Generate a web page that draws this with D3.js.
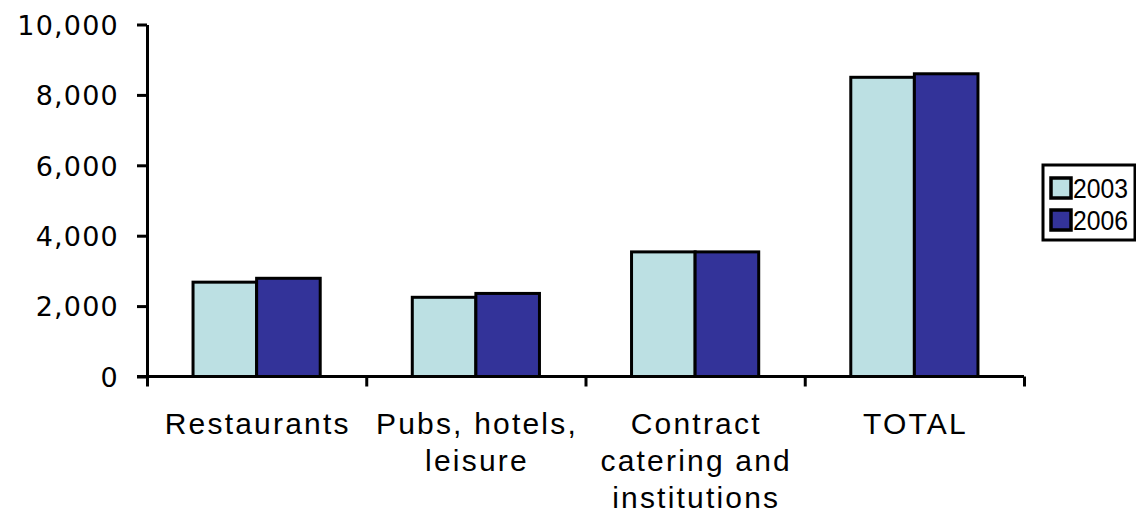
<!DOCTYPE html>
<html>
<head>
<meta charset="utf-8">
<script src="https://cdn.jsdelivr.net/npm/d3@7"></script>
<style>
  html, body { margin: 0; padding: 0; background: #fff; }
  svg { display: block; }
</style>
</head>
<body>
<svg id="chart" width="1136" height="515"></svg>
<script>
// Catering sector figures, two survey years
const categories = [
  ["Restaurants"],
  ["Pubs, hotels,", "leisure"],
  ["Contract", "catering and", "institutions"],
  ["TOTAL"]
];
const seriesNames = ["2003", "2006"];
const values2003 = [2680, 2250, 3540, 8500];
const values2006 = [2790, 2360, 3540, 8600];
const yTicks = [0, 2000, 4000, 6000, 8000, 10000];
const colors = ["#bce0e3", "#333399"];

const svg = d3.select("#chart");
const margin = { left: 147, top: 24.5, right: 1136 - 1024, bottom: 515 - 376.5 };
const W = 1136 - margin.left - margin.right;
const H = 515 - margin.top - margin.bottom;

const g = svg.append("g").attr("transform", `translate(${margin.left},${margin.top})`);

const x0 = d3.scaleBand().domain(d3.range(categories.length)).range([0, W]).padding(0);
const x1 = d3.scaleBand().domain(seriesNames).range([0, x0.bandwidth()]).paddingInner(0).paddingOuter(0.724);
const y = d3.scaleLinear().domain([0, 10000]).range([H, 0]);

const rows = categories.map((c, i) => ({ i, vals: [values2003[i], values2006[i]] }));

// bars
const grp = g.selectAll("g.cat").data(rows).join("g")
  .attr("class", "cat")
  .attr("transform", d => `translate(${x0(d.i)},0)`);
grp.selectAll("rect").data(d => d.vals.map((v, k) => ({ k, v }))).join("rect")
  .attr("x", d => x1(seriesNames[d.k]))
  .attr("width", x1.bandwidth())
  .attr("y", d => y(d.v))
  .attr("height", d => H - y(d.v))
  .attr("fill", d => colors[d.k])
  .attr("stroke", "#000")
  .attr("stroke-width", 3);

// y axis
const yAxis = g.append("g")
  .call(d3.axisLeft(y).tickValues(yTicks).tickFormat(d3.format(",")).tickSizeInner(10).tickSizeOuter(0).tickPadding(18));
yAxis.select(".domain").attr("stroke", "#000").attr("stroke-width", 3);
yAxis.selectAll(".tick line").attr("stroke", "#000").attr("stroke-width", 3);
yAxis.selectAll(".tick text")
  .attr("fill", "#000")
  .attr("dy", "0.36em")
  .style("font-family", "'DejaVu Sans', Verdana, sans-serif")
  .style("font-size", "27px")
  .style("letter-spacing", "1.2px");

// x axis: boundary ticks between categories
const xLin = d3.scaleLinear().domain([0, categories.length]).range([0, W]);
const xAxis = g.append("g").attr("transform", `translate(0,${H})`)
  .call(d3.axisBottom(xLin).tickValues(d3.range(categories.length + 1)).tickFormat("").tickSizeInner(10).tickSizeOuter(0));
xAxis.select(".domain").attr("stroke", "#000").attr("stroke-width", 3)
  .attr("d", `M-10,0H${W}`);
xAxis.selectAll(".tick line").attr("stroke", "#000").attr("stroke-width", 3);

// category labels
const lab = g.append("g").attr("transform", `translate(0,${H})`);
rows.forEach(d => {
  const cx = x0(d.i) + x0.bandwidth() / 2;
  const t = lab.append("text")
    .attr("y", 57.5)
    .attr("text-anchor", "middle")
    .style("font-family", "'Liberation Sans', Arial, sans-serif")
    .style("font-size", "30px")
    .style("letter-spacing", "2.2px")
    .attr("fill", "#000");
  categories[d.i].forEach((line, j) => {
    t.append("tspan").attr("x", cx + 1.1).attr("dy", j === 0 ? 0 : 37).text(line);
  });
});

// legend
const leg = svg.append("g").attr("transform", "translate(1043,165)");
leg.append("rect").attr("width", 92).attr("height", 75)
  .attr("fill", "#fff").attr("stroke", "#000").attr("stroke-width", 3);
seriesNames.forEach((s, k) => {
  const r = leg.append("g").attr("transform", `translate(8,${13 + k * 32})`);
  r.append("rect").attr("width", 20).attr("height", 20)
    .attr("fill", colors[k]).attr("stroke", "#000").attr("stroke-width", 3.5);
  r.append("text").attr("x", 22).attr("y", 19.5)
    .attr("textLength", 55).attr("lengthAdjust", "spacingAndGlyphs")
    .style("font-family", "'Liberation Sans', Arial, sans-serif")
    .style("font-size", "28px")
    .attr("fill", "#000")
    .text(s);
});
</script>
</body>
</html>
